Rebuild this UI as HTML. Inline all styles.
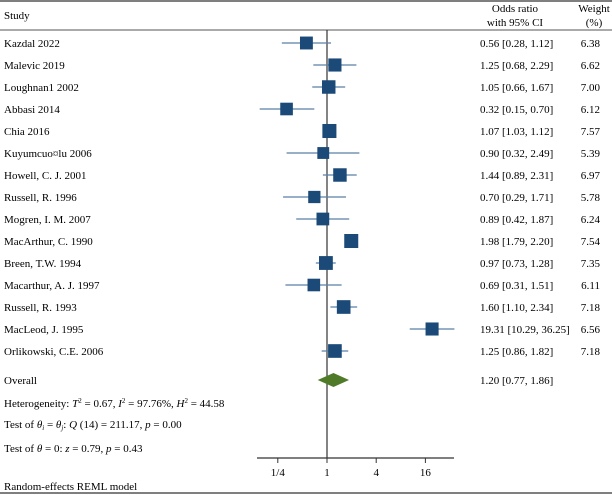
<!DOCTYPE html>
<html><head><meta charset="utf-8"><style>
html,body{margin:0;padding:0;background:#fff;}
svg{display:block;font-family:"Liberation Serif",serif;}
</style></head><body>
<svg id="chart" width="612" height="495" viewBox="0 0 612 495">
<line x1="0" y1="1" x2="612" y2="1" stroke="#555" stroke-width="1.5"/>
<line x1="0" y1="30" x2="612" y2="30" stroke="#555" stroke-width="1"/>
<line x1="0" y1="493" x2="612" y2="493" stroke="#555" stroke-width="1.5"/>
<text x="4" y="19" font-size="11">Study</text>
<text x="515" y="12" font-size="11" text-anchor="middle">Odds ratio</text>
<text x="515" y="26" font-size="11" text-anchor="middle">with 95% CI</text>
<text x="594" y="12" font-size="11" text-anchor="middle">Weight</text>
<text x="594" y="26" font-size="11" text-anchor="middle">(%)</text>
<g id="marks"></g>
<text x="4" y="384" font-size="11">Overall</text>
<text x="480" y="384" font-size="11">1.20 [0.77, 1.86]</text>
<text x="4" y="407" font-size="11">Heterogeneity: <tspan font-style="italic">T</tspan><tspan font-size="7" dy="-4">2</tspan><tspan dy="4"> = 0.67, </tspan><tspan font-style="italic">I</tspan><tspan font-size="7" dy="-4">2</tspan><tspan dy="4"> = 97.76%, </tspan><tspan font-style="italic">H</tspan><tspan font-size="7" dy="-4">2</tspan><tspan dy="4"> = 44.58</tspan></text>
<text x="4" y="428" font-size="11">Test of <tspan font-style="italic">θ</tspan><tspan font-size="7" dy="2" font-style="italic">i</tspan><tspan dy="-2"> = </tspan><tspan font-style="italic">θ</tspan><tspan font-size="7" dy="2" font-style="italic">j</tspan><tspan dy="-2">: </tspan><tspan font-style="italic">Q</tspan> (14) = 211.17, <tspan font-style="italic">p</tspan> = 0.00</text>
<text x="4" y="452" font-size="11">Test of <tspan font-style="italic">θ</tspan> = 0: <tspan font-style="italic">z</tspan> = 0.79, <tspan font-style="italic">p</tspan> = 0.43</text>
<text x="4" y="490" font-size="11">Random-effects REML model</text>
</svg>
<script>
const studies=["Kazdal 2022","Malevic 2019","Loughnan1 2002","Abbasi 2014","Chia 2016","Kuyumcuo\u00a4lu 2006","Howell, C. J. 2001","Russell, R. 1996","Mogren, I. M. 2007","MacArthur, C. 1990","Breen, T.W. 1994","Macarthur, A. J. 1997","Russell, R. 1993","MacLeod, J. 1995","Orlikowski, C.E. 2006"];
const orVals=[0.56,1.25,1.05,0.32,1.07,0.90,1.44,0.70,0.89,1.98,0.97,0.69,1.60,19.31,1.25];
const lowVals=[0.28,0.68,0.66,0.15,1.03,0.32,0.89,0.29,0.42,1.79,0.73,0.31,1.10,10.29,0.86];
const highVals=[1.12,2.29,1.67,0.70,1.12,2.49,2.31,1.71,1.87,2.20,1.28,1.51,2.34,36.25,1.82];
const weights=[6.38,6.62,7.00,6.12,7.57,5.39,6.97,5.78,6.24,7.54,7.35,6.11,7.18,6.56,7.18];
const overall=[1.20,0.77,1.86];
const tickVals=[0.25,1,4,16];
const tickLabels=["1/4","1","4","16"];
const NS="http://www.w3.org/2000/svg";
const x=v=>327+24.6*Math.log2(v);
const rowY=i=>43+22*i;
const svg=document.getElementById('chart');
const g=document.getElementById('marks');
function mk(tag,attrs,parent){const e=document.createElementNS(NS,tag);for(const k in attrs)e.setAttribute(k,attrs[k]);(parent||g).appendChild(e);return e;}
const fmt=v=>v.toFixed(2);
// null line
let nl=mk('line',{x1:x(1),y1:30,x2:x(1),y2:458,stroke:'#333','stroke-width':1.2});


studies.forEach((s,i)=>{
  const y=rowY(i);
  let t=mk('text',{x:4,y:y+4,'font-size':11});t.textContent=s;
  
  
  let ci=mk('line',{x1:x(lowVals[i]),y1:y,x2:x(highVals[i]),y2:y,stroke:'#5a7fa6','stroke-width':1.3});
  
  
  const sz=5.1*Math.sqrt(weights[i]);
  let sq=mk('rect',{x:x(orVals[i])-sz/2,y:y-sz/2,width:sz,height:sz,fill:'#1b4a78'});
  
  
  let v=mk('text',{x:480,y:y+4,'font-size':11});v.textContent=fmt(orVals[i])+' ['+fmt(lowVals[i])+', '+fmt(highVals[i])+']';
  
  
  let w=mk('text',{x:600,y:y+4,'font-size':11,'text-anchor':'end'});w.textContent=fmt(weights[i]);
  
  
});
const oy=380;
let d=mk('polygon',{points:`${x(overall[1])},${oy} ${x(overall[0])},${oy-7} ${x(overall[2])},${oy} ${x(overall[0])},${oy+7}`,fill:'#4f7a28'});


let ax=mk('line',{x1:257,y1:458,x2:454,y2:458,stroke:'#333','stroke-width':1.2});


tickVals.forEach((t,i)=>{
  let tk=mk('line',{x1:x(t),y1:458,x2:x(t),y2:463,stroke:'#333'});
  
  
  let tl=mk('text',{x:x(t),y:476,'font-size':11,'text-anchor':'middle'});tl.textContent=tickLabels[i];
  
  
});
</script>
</body></html>
